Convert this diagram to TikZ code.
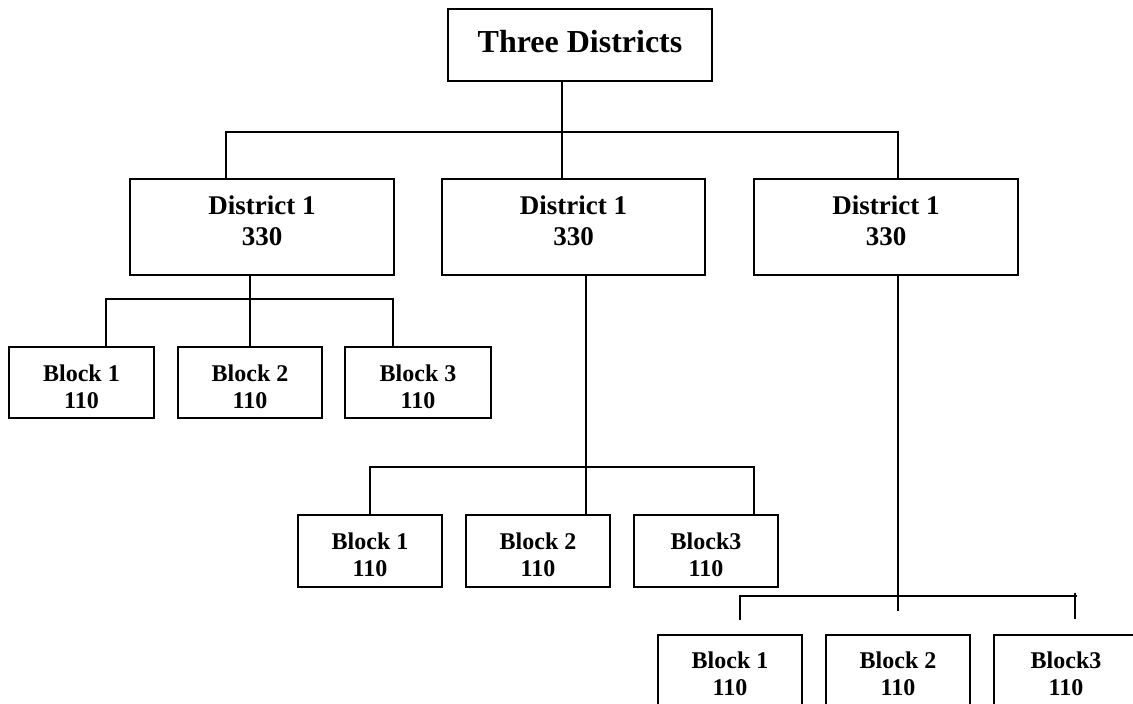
\documentclass[tikz,border=0pt]{standalone}
\usepackage{fontspec}
\setmainfont{Liberation Serif}
\begin{document}
\begin{tikzpicture}[x=1pt,y=-1pt,
  box/.style={draw, line width=2pt, rectangle, inner sep=0pt},
  ln/.style={line width=2pt},
  tt/.style={font=\fontsize{32}{36}\selectfont\bfseries, inner sep=0pt},
  dt/.style={font=\fontsize{27}{31}\selectfont\bfseries, align=center, inner sep=0pt},
  bt/.style={font=\fontsize{24}{27}\selectfont\bfseries, align=center, inner sep=0pt},
  dbox/.style={box, minimum width=264pt, minimum height=96pt},
  bbox/.style={box, minimum width=144pt, minimum height=72pt}]
\useasboundingbox (0,0) rectangle (1133,704);
\clip (0,0) rectangle (1133,704);

% top
\node[box, minimum width=264pt, minimum height=72pt] (T) at (580,45) {};
\node[tt, anchor=base] (Tt) at (580,52) {Three Districts};

% districts
\node[dbox] (D1) at (262,227) {};
\node[dbox, minimum width=263pt] (D2) at (573.5,227) {};
\node[dbox] (D3) at (886,227) {};
\node[dt] (D1t) at (262,221) {District 1\\330};
\node[dt] (D2t) at (573.5,221) {District 1\\330};
\node[dt] (D3t) at (886,221) {District 1\\330};

% left blocks
\node[bbox, minimum width=145pt, minimum height=71pt] (L1) at (81.5,382.5) {};
\node[bbox, minimum height=71pt] (L2) at (250,382.5) {};
\node[bbox, minimum width=146pt, minimum height=71pt] (L3) at (418,382.5) {};
\node[bt] (L1t) at (81.5,386.4) {Block 1\\110};
\node[bt] (L2t) at (250,386.4) {Block 2\\110};
\node[bt] (L3t) at (418,386.4) {Block 3\\110};

% middle blocks
\node[bbox] (M1) at (370,550.8) {};
\node[bbox] (M2) at (538,550.8) {};
\node[bbox] (M3) at (706,550.8) {};
\node[bt] (M1t) at (370,554.4) {Block 1\\110};
\node[bt] (M2t) at (538,554.4) {Block 2\\110};
\node[bt] (M3t) at (706,554.4) {Block3\\110};

% bottom blocks
\node[bbox] (R1) at (730,671) {};
\node[bbox] (R2) at (898,671) {};
\node[bbox] (R3) at (1066,671) {};
\node[bt] (R1t) at (730,673.4) {Block 1\\110};
\node[bt] (R2t) at (898,673.4) {Block 2\\110};
\node[bt] (R3t) at (1066,673.4) {Block3\\110};

% top connectors
\coordinate (j0) at (562,132);
\coordinate (bL) at (226,132);
\coordinate (bR) at (898,132);
\draw[ln] (j0 |- T.south) -- (j0);
\draw[ln] (bL |- D1.north) -- (bL) -- (bR) -- (bR |- D3.north);
\draw[ln] (j0) -- (j0 |- D2.north);

% left connectors
\coordinate (l0) at (250,299);
\coordinate (lL) at (106,299);
\coordinate (lR) at (393,299);
\draw[ln] (l0 |- D1.south) -- (l0);
\draw[ln] (lL |- L1.north) -- (lL) -- (lR) -- (lR |- L3.north);
\draw[ln] (l0) -- (l0 |- L2.north);

% middle connectors
\coordinate (m0) at (586,467);
\coordinate (mL) at (370,467);
\coordinate (mR) at (754,467);
\draw[ln] (m0 |- D2.south) -- (m0);
\draw[ln] (mL |- M1.north) -- (mL) -- (mR) -- (mR |- M3.north);
\draw[ln] (m0) -- (m0 |- M2.north);

% right connectors (open ends)
\coordinate (r0) at (898,596);
\coordinate (rE) at (898,611);
\coordinate (rL) at (740,596);
\coordinate (rLe) at (740,620);
\coordinate (rR) at (1077,596);
\coordinate (rRt) at (1075,593);
\coordinate (rRe) at (1075,619);
\draw[ln] (r0 |- D3.south) -- (rE);
\draw[ln] (rLe) -- (rL) -- (rR);
\draw[ln] (rRt) -- (rRe);
\end{tikzpicture}
\end{document}
